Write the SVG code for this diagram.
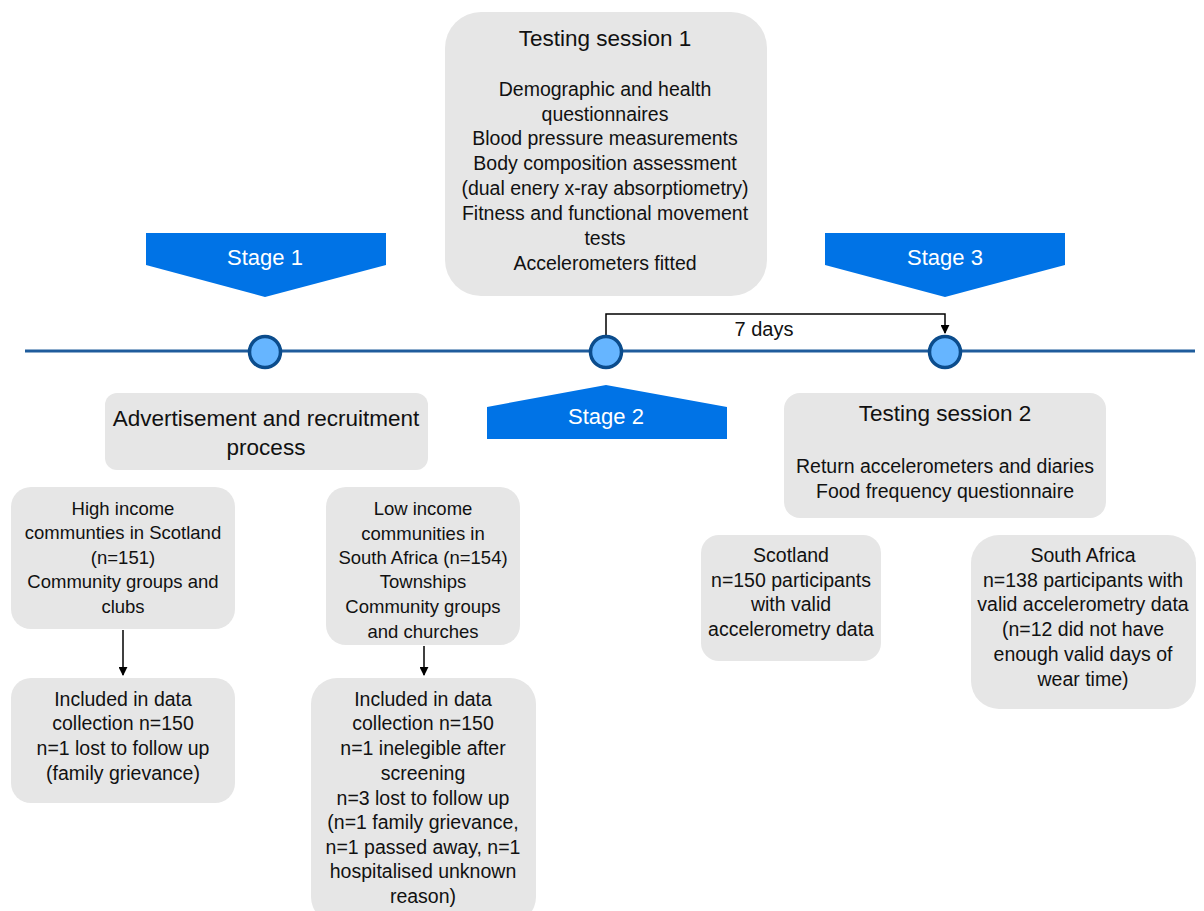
<svg xmlns="http://www.w3.org/2000/svg" width="1204" height="911" viewBox="0 0 1204 911">
<defs>
<style>
.box{fill:#e6e6e6;stroke:none}
.t{font-family:"Liberation Sans",Arial,sans-serif;font-size:19.5px;fill:#111;text-anchor:middle;dominant-baseline:central}
.s{font-size:18.5px}
.h{font-size:22.5px}
.st{font-family:"Liberation Sans",Arial,sans-serif;font-size:22px;fill:#fff;text-anchor:middle;dominant-baseline:central}
.stage{fill:#0073e6}
.dot{fill:#66b5ff;stroke:#0b4c8c;stroke-width:3.5}
.ln{stroke:#000;stroke-width:1.5;fill:none}
</style>
<marker id="ah" viewBox="0 0 10 10" refX="9" refY="5" markerWidth="9" markerHeight="9" markerUnits="userSpaceOnUse" orient="auto"><path d="M0,0 L10,5 L0,10 Z" fill="#000"/></marker>
</defs>
<rect width="1204" height="911" fill="#fff"/>
<g id="timeline">
<line x1="25" y1="351" x2="1195" y2="351" stroke="#1f5c9c" stroke-width="3"/>
</g>
<g id="connectors">
<path class="ln" d="M606,335 V314 H945 V333" marker-end="url(#ah)"/>
<text class="t" x="764" y="329" style="font-size:20px">7 days</text>
<line class="ln" x1="123" y1="630" x2="123" y2="675" marker-end="url(#ah)"/>
<line class="ln" x1="424" y1="646" x2="424" y2="675" marker-end="url(#ah)"/>
</g>
<g id="dot1"><circle class="dot" cx="265" cy="352" r="15.5"/></g>
<g id="dot2"><circle class="dot" cx="606" cy="352" r="15.5"/></g>
<g id="dot3"><circle class="dot" cx="945" cy="352" r="15.5"/></g>
<g id="stage1">
<polygon class="stage" points="146,233 386,233 386,265 265,297 146,265"/>
<text class="st" x="265" y="257">Stage 1</text>
</g>
<g id="stage3">
<polygon class="stage" points="825,233 1065,233 1065,265 945,297 825,265"/>
<text class="st" x="945" y="257">Stage 3</text>
</g>
<g id="stage2">
<polygon class="stage" points="487,407 606,385 727,407 727,439 487,439"/>
<text class="st" x="606" y="416">Stage 2</text>
</g>
<g id="session1">
<rect class="box" x="445" y="12" width="322" height="284" rx="36"/>
<text class="t h" x="605" y="38">Testing session 1</text>
<text class="t" x="605" y="89">Demographic and health</text>
<text class="t" x="605" y="114">questionnaires</text>
<text class="t" x="605" y="138">Blood pressure measurements</text>
<text class="t" x="605" y="163">Body composition assessment</text>
<text class="t" x="605" y="188">(dual enery x-ray absorptiometry)</text>
<text class="t" x="605" y="213">Fitness and functional movement</text>
<text class="t" x="605" y="238">tests</text>
<text class="t" x="605" y="263">Accelerometers fitted</text>
</g>
<g id="advert">
<rect class="box" x="105" y="393" width="323" height="77" rx="12"/>
<text class="t h" x="266" y="418">Advertisement and recruitment</text>
<text class="t h" x="266" y="447">process</text>
</g>
<g id="high">
<rect class="box" x="11" y="487" width="224" height="142" rx="20"/>
<text class="t s" x="123" y="508">High income</text>
<text class="t s" x="123" y="532">communties in Scotland</text>
<text class="t s" x="123" y="557">(n=151)</text>
<text class="t s" x="123" y="581">Community groups and</text>
<text class="t s" x="123" y="606">clubs</text>
</g>
<g id="low">
<rect class="box" x="326" y="487" width="194" height="158" rx="20"/>
<text class="t s" x="423" y="508">Low income</text>
<text class="t s" x="423" y="533">communities in</text>
<text class="t s" x="423" y="557">South Africa (n=154)</text>
<text class="t s" x="423" y="581">Townships</text>
<text class="t s" x="423" y="606">Community groups</text>
<text class="t s" x="423" y="631">and churches</text>
</g>
<g id="inc1">
<rect class="box" x="11" y="678" width="224" height="125" rx="20"/>
<text class="t" x="123" y="699">Included in data</text>
<text class="t" x="123" y="723">collection n=150</text>
<text class="t" x="123" y="748">n=1 lost to follow up</text>
<text class="t" x="123" y="773">(family grievance)</text>
</g>
<g id="inc2">
<rect class="box" x="311" y="678" width="225" height="245" rx="26"/>
<text class="t" x="423" y="699">Included in data</text>
<text class="t" x="423" y="723">collection n=150</text>
<text class="t" x="423" y="748">n=1 inelegible after</text>
<text class="t" x="423" y="773">screening</text>
<text class="t" x="423" y="798">n=3 lost to follow up</text>
<text class="t" x="423" y="822">(n=1 family grievance,</text>
<text class="t" x="423" y="847">n=1 passed away, n=1</text>
<text class="t" x="423" y="871">hospitalised unknown</text>
<text class="t" x="423" y="896">reason)</text>
</g>
<g id="session2">
<rect class="box" x="784" y="393" width="322" height="125" rx="16"/>
<text class="t h" x="945" y="413">Testing session 2</text>
<text class="t" x="945" y="466">Return accelerometers and diaries</text>
<text class="t" x="945" y="491">Food frequency questionnaire</text>
</g>
<g id="scotland">
<rect class="box" x="701" y="535" width="180" height="126" rx="18"/>
<text class="t" x="791" y="555">Scotland</text>
<text class="t" x="791" y="580">n=150 participants</text>
<text class="t" x="791" y="604">with valid</text>
<text class="t" x="791" y="629">accelerometry data</text>
</g>
<g id="southafrica">
<rect class="box" x="971" y="535" width="225" height="174" rx="28"/>
<text class="t" x="1083" y="555">South Africa</text>
<text class="t" x="1083" y="580">n=138 participants with</text>
<text class="t" x="1083" y="604">valid accelerometry data</text>
<text class="t" x="1083" y="629">(n=12 did not have</text>
<text class="t" x="1083" y="654">enough valid days of</text>
<text class="t" x="1083" y="679">wear time)</text>
</g>
</svg>
